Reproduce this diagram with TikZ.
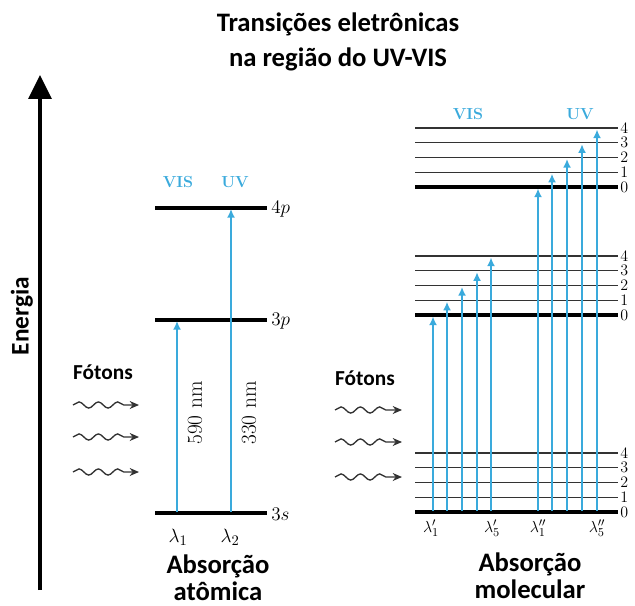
\documentclass[tikz,border=0pt]{standalone}
\usepackage{fontspec}
\newfontfamily\calfont{Carlito}
\usetikzlibrary{arrows.meta,decorations.pathmorphing}
\definecolor{uvblue}{RGB}{58,170,220}
\definecolor{wavegray}{RGB}{50,50,50}
\begin{document}
\begin{tikzpicture}[x=0.75pt,y=-0.75pt,
  bigtext/.style={font=\calfont\bfseries\fontsize{20}{20}\selectfont, align=center, inner sep=0pt},
  titletext/.style={font=\calfont\bfseries\fontsize{20}{26}\selectfont, align=center, inner sep=0pt},
  fotontext/.style={font=\calfont\bfseries\fontsize{16}{16}\selectfont, inner sep=0pt},
  lvlthick/.style={line width=3pt},
  lvlthin/.style={line width=0.9pt, draw=black!80},
  trans/.style={draw=uvblue, line width=1.5pt, -{Latex[length=6.5pt,width=6pt]}},
  photon/.style={draw=wavegray, line width=1pt, -{Stealth[length=7pt,width=6pt]},
    decorate, decoration={snake, amplitude=2.3pt, segment length=14.5pt, post length=7pt}},
  orblabel/.style={font=\fontsize{15}{15}\selectfont, anchor=west, inner sep=0pt},
  vlabel/.style={font=\fontsize{12}{12}\selectfont, anchor=west, inner sep=0pt},
  bandlabel/.style={font=\bfseries\fontsize{12}{12}\selectfont, text=uvblue, inner sep=0pt},
  lamlabel/.style={font=\fontsize{15}{15}\selectfont, inner sep=0pt},
  mlamlabel/.style={font=\fontsize{13}{13}\selectfont, inner sep=0pt},
  nmlabel/.style={font=\fontsize{16}{16}\selectfont, rotate=90, inner sep=0pt}
]
\useasboundingbox (0,0) rectangle (635,606);

% Title
\node[titletext] (title) at (338,42) {Transições eletrônicas\\na região do UV-VIS};

% Energy axis
\coordinate (ebot) at (40,590);
\coordinate (etop) at (40,75);
\draw[line width=3pt, -{Triangle[length=18pt,width=17pt]}] (ebot) -- (etop);
\node[bigtext, rotate=90, font=\calfont\bfseries\fontsize{19}{19}\selectfont] (energia) at (22,316) {Energia};

% ---------- Atomic absorption ----------
\coordinate (a4l) at (155,208); \coordinate (a4r) at (267,208);
\coordinate (a3l) at (155,320); \coordinate (a3r) at (267,320);
\coordinate (asl) at (155,513); \coordinate (asr) at (267,513);
\draw[lvlthick] (a4l) -- (a4r);
\draw[lvlthick] (a3l) -- (a3r);
\draw[lvlthick] (asl) -- (asr);
\node[orblabel] (l4p) at (271,209) {$4p$};
\node[orblabel] (l3p) at (271,321) {$3p$};
\node[orblabel] (l3s) at (271,514) {$3s$};

\node[bandlabel] (avis) at (178,182) {VIS};
\node[bandlabel] (auv) at (235,182) {UV};

\coordinate (t1s) at (177,512); \coordinate (t1e) at (177,321);
\coordinate (t2s) at (231,512); \coordinate (t2e) at (231,209);
\draw[trans] (t1s) -- (t1e);
\draw[trans] (t2s) -- (t2e);
\node[nmlabel] (nm590) at (195,413) {590 nm};
\node[nmlabel] (nm330) at (249,413) {330 nm};

\node[lamlabel] (lam1) at (178,537) {$\lambda_1$};
\node[lamlabel] (lam2) at (230,537) {$\lambda_2$};

\node[bigtext] (absat) at (218,578) {Absorção\\atômica};

% photons left
\node[fotontext] (fot1) at (103,372) {Fótons};
\foreach \y [count=\i] in {405,437,472}{
  \coordinate (pls\i) at (73,\y); \coordinate (ple\i) at (139,\y);
  \draw[photon] (pls\i) -- (ple\i);
}

% ---------- Molecular absorption ----------
\foreach \base/\nm in {187/u,315/m,512/b}{
  \foreach \v in {0,...,4}{
    \pgfmathsetmacro{\yy}{\base-14.75*\v}
    \coordinate (\nm\v l) at (415,\yy);
    \coordinate (\nm\v r) at (618,\yy);
    \node[vlabel] (\nm\v lab) at (620,\yy) {\v};
  }
  \draw[lvlthick] (\nm0l) -- (\nm0r);
  \foreach \v in {1,...,4}{ \draw[lvlthin] (\nm\v l) -- (\nm\v r); }
}

\node[bandlabel] (mvis) at (468,114) {VIS};
\node[bandlabel] (muv) at (580,114) {UV};

% VIS transitions (to middle band)
\foreach \x [count=\i from 0] in {433,447,462,477,491}{
  \coordinate (vs\i) at (\x,511);
  \pgfmathsetmacro{\ye}{315-14.75*\i+1.5}
  \coordinate (ve\i) at (\x,\ye);
  \draw[trans] (vs\i) -- (ve\i);
}
% UV transitions (to upper band)
\foreach \x [count=\i from 0] in {538,552,567,582,597}{
  \coordinate (us\i) at (\x,511);
  \pgfmathsetmacro{\ye}{187-14.75*\i+1.5}
  \coordinate (ue\i) at (\x,\ye);
  \draw[trans] (us\i) -- (ue\i);
}

\node[mlamlabel] (lv1) at (431,528) {$\lambda'_1$};
\node[mlamlabel] (lv5) at (492,528) {$\lambda'_5$};
\node[mlamlabel] (lu1) at (538,528) {$\lambda''_1$};
\node[mlamlabel] (lu5) at (597,528) {$\lambda''_5$};

\node[bigtext] (absmol) at (530,576) {Absorção\\molecular};

% photons right
\node[fotontext] (fot2) at (365,378) {Fótons};
\foreach \y [count=\i] in {410,442,477}{
  \coordinate (prs\i) at (335,\y); \coordinate (pre\i) at (402,\y);
  \draw[photon] (prs\i) -- (pre\i);
}
\end{tikzpicture}
\end{document}
